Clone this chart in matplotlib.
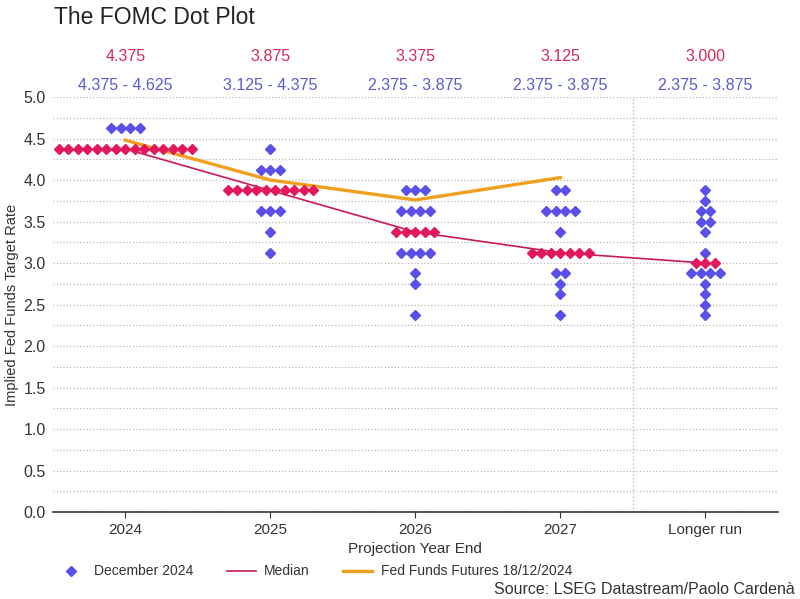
import numpy as np
import matplotlib
matplotlib.use("Agg")
import matplotlib.pyplot as plt
from matplotlib.lines import Line2D
from matplotlib.transforms import blended_transform_factory

plt.rcParams["font.family"] = ["Liberation Sans", "DejaVu Sans"]

# --- data ------------------------------------------------------------------
categories = ["2024", "2025", "2026", "2027", "Longer run"]

# participants' dots per projection: rate levels and number of dots at each
rates_2024 = [4.625, 4.375]
counts_2024 = [4, 15]
rates_2025 = [4.375, 4.125, 3.875, 3.625, 3.375, 3.125]
counts_2025 = [1, 3, 10, 3, 1, 1]
rates_2026 = [3.875, 3.625, 3.375, 3.125, 2.875, 2.75, 2.375]
counts_2026 = [3, 4, 5, 4, 1, 1, 1]
rates_2027 = [3.875, 3.625, 3.375, 3.125, 2.875, 2.75, 2.625, 2.375]
counts_2027 = [2, 4, 1, 7, 2, 1, 1, 1]
rates_lr = [3.875, 3.75, 3.625, 3.5, 3.375, 3.125, 3.0, 2.875, 2.75, 2.625, 2.5, 2.375]
counts_lr = [1, 1, 2, 2, 1, 1, 3, 4, 1, 1, 1, 1]

median = [4.375, 3.875, 3.375, 3.125, 3.0]
median_labels = ["4.375", "3.875", "3.375", "3.125", "3.000"]
range_labels = ["4.375 - 4.625", "3.125 - 4.375", "2.375 - 3.875",
                "2.375 - 3.875", "2.375 - 3.875"]

futures = [4.48, 4.00, 3.76, 4.03]   # Fed Funds Futures 18/12/2024, 2024..2027

# --- styling ---------------------------------------------------------------
BLUE = "#5a50e8"
RED = "#e2185c"
MEDIAN_C = "#c8195e"
ORANGE = "#f0a01e"
RED_TXT = "#d42a5a"
BLUE_TXT = "#5b5bd0"
GREY = "#333333"
STEP = 0.0655            # horizontal spacing of dots (category units)

fig = plt.figure(figsize=(8.0, 5.99), dpi=100)
ax = fig.add_axes([0.066, 0.145, 0.9065, 0.693])

all_rates = [rates_2024, rates_2025, rates_2026, rates_2027, rates_lr]
all_counts = [counts_2024, counts_2025, counts_2026, counts_2027, counts_lr]
for i, (rates, counts) in enumerate(zip(all_rates, all_counts)):
    for r, n in zip(rates, counts):
        xs = i + (np.arange(n) - (n - 1) / 2) * STEP
        color = RED if r == median[i] else BLUE
        ax.plot(xs, [r] * n, ls="none", marker="D", ms=4.7, mfc=color,
                mec=color, zorder=4)

x = np.arange(len(categories))
ax.plot(x, median, color=MEDIAN_C, lw=1.2, zorder=3)
ax.plot(x[:len(futures)], futures, color=ORANGE, lw=2.4, zorder=3)

ax.axvline(3.5, color="#bbbbbb", ls=":", lw=1.0, zorder=1)

ax.set_xlim(-0.5, 4.5)
ax.set_ylim(0, 5.0)
ax.set_yticks(np.arange(0, 5.01, 0.5))
ax.set_yticks(np.arange(0.25, 5.01, 0.5), minor=True)
ax.set_yticklabels([f"{v:.1f}" for v in np.arange(0, 5.01, 0.5)])
ax.grid(axis="y", which="both", color="#b8b8b8", ls=":", lw=0.9)
ax.set_axisbelow(True)
ax.set_xticks(x)
ax.set_xticklabels(categories)

for s in ("top", "right", "left"):
    ax.spines[s].set_visible(False)
ax.spines["bottom"].set_color(GREY)
ax.spines["bottom"].set_linewidth(1.2)
ax.tick_params(axis="y", which="both", length=0, labelsize=11.5,
               labelcolor=GREY, pad=5)
ax.tick_params(axis="x", length=4, color=GREY, labelsize=11,
               labelcolor=GREY)

ax.set_ylabel("Implied Fed Funds Target Rate", fontsize=10.5, color=GREY,
              labelpad=3)
ax.set_xlabel("Projection Year End", fontsize=11, color=GREY, labelpad=4)

tr = blended_transform_factory(ax.transData, fig.transFigure)
for i in range(len(categories)):
    ax.text(i, 0.905, median_labels[i], transform=tr, ha="center",
            va="center", color=RED_TXT, fontsize=11.5)
    ax.text(i, 0.858, range_labels[i], transform=tr, ha="center",
            va="center", color=BLUE_TXT, fontsize=11.5)

fig.text(0.068, 0.970, "The FOMC Dot Plot", fontsize=16.5, color="#222222",
         ha="left", va="center")

handles = [
    Line2D([], [], ls="none", marker="D", ms=5, color=BLUE),
    Line2D([], [], color=MEDIAN_C, lw=1.2),
    Line2D([], [], color=ORANGE, lw=2.4),
]
fig.legend(handles, ["December 2024", "Median", "Fed Funds Futures 18/12/2024"],
           loc="center left", bbox_to_anchor=(0.055, 0.046), ncol=3,
           frameon=False, fontsize=10, handlelength=2.1, columnspacing=2.4,
           handletextpad=0.6, labelcolor=GREY)

fig.text(0.993, 0.003, "Source: LSEG Datastream/Paolo Cardenà", fontsize=11.5,
         color=GREY, ha="right", va="bottom")

fig.savefig("out.png", dpi=100)
